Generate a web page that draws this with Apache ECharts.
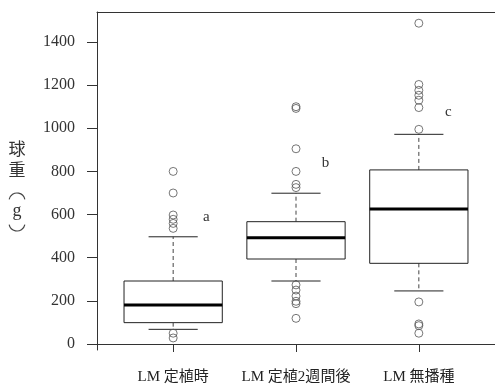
<!DOCTYPE html>
<html>
<head>
<meta charset="utf-8">
<style>
  html, body { margin: 0; padding: 0; background: #fff; }
  #chart { width: 495px; height: 390px; }
</style>
<script src="https://cdn.jsdelivr.net/npm/echarts@6/dist/echarts.min.js"></script>
</head>
<body>
<div id="chart"></div>
<script>
// Bulb weight (g) by treatment
const categories = ['LM 定植時', 'LM 定植2週間後', 'LM 無播種'];
const whiskerLow = [68, 292, 246];
const q1 = [99, 394, 374];
const median = [181, 493, 626];
const q3 = [292, 567, 807];
const whiskerHigh = [497, 699, 972];
const outliers = [
  [800, 700, 598, 578, 559, 536, 50, 28],
  [1100, 1092, 905, 800, 740, 725, 274, 250, 222, 198, 187, 119],
  [1487, 1203, 1176, 1153, 1130, 1096, 995, 195, 93, 85, 50]
];
const groupLetters = ['a', 'b', 'c'];
const yTicks = [0, 200, 400, 600, 800, 1000, 1200, 1400];

const serif = '"Liberation Serif", "Times New Roman", "Noto Sans CJK JP", serif';
const cjk = '"Noto Sans CJK JP", sans-serif';

const boxData = categories.map((c, i) =>
  [i + 1, whiskerLow[i], q1[i], median[i], q3[i], whiskerHigh[i]]);
const outlierData = [];
outliers.forEach((arr, i) => arr.forEach(v => outlierData.push([i + 1, v])));

function renderBox(params, api) {
  const x = api.value(0);
  const lo = api.value(1), a = api.value(2), m = api.value(3), b = api.value(4), hi = api.value(5);
  const halfBox = 0.4, halfCap = 0.2;
  const pL = api.coord([x - halfBox, a]), pR = api.coord([x + halfBox, b]);
  const c = api.coord([x, m]);
  const cl = api.coord([x - halfCap, lo]), cr = api.coord([x + halfCap, lo]);
  const hl = api.coord([x - halfCap, hi]), hr = api.coord([x + halfCap, hi]);
  const top = api.coord([x, b]), bot = api.coord([x, a]);
  const line = { stroke: '#222', lineWidth: 1 };
  const dash = { stroke: '#444', lineWidth: 1, lineDash: [4, 3] };
  return {
    type: 'group',
    children: [
      { type: 'line', shape: { x1: top[0], y1: top[1], x2: top[0], y2: hl[1] }, style: dash },
      { type: 'line', shape: { x1: bot[0], y1: bot[1], x2: bot[0], y2: cl[1] }, style: dash },
      { type: 'line', shape: { x1: hl[0], y1: hl[1], x2: hr[0], y2: hr[1] }, style: line },
      { type: 'line', shape: { x1: cl[0], y1: cl[1], x2: cr[0], y2: cr[1] }, style: line },
      { type: 'rect', shape: { x: pL[0], y: pR[1], width: pR[0] - pL[0], height: pL[1] - pR[1] },
        style: { fill: '#fff', stroke: '#222', lineWidth: 1 } },
      { type: 'line', shape: { x1: pL[0], y1: c[1], x2: pR[0], y2: c[1] },
        style: { stroke: '#000', lineWidth: 3 } }
    ]
  };
}

const frameLine = { show: true, lineStyle: { color: '#333', width: 1 } };

// vertical axis title: 球重（g） stacked top to bottom, brackets drawn as sideways arcs
const titleStyle = (text, size, font) => ({
  text: text, fontSize: size, fill: '#333', fontFamily: font, align: 'center', verticalAlign: 'middle'
});
const arcStyle = { stroke: '#444', lineWidth: 1.2, fill: null };

const chart = echarts.init(document.getElementById('chart'), null, { renderer: 'canvas' });
chart.setOption({
  animation: false,
  backgroundColor: '#fff',
  grid: { left: 97, top: 12, width: 401, height: 338, show: false, containLabel: false },
  xAxis: [
    {
      type: 'value', min: 0.38, max: 3.62, position: 'bottom',
      axisLine: frameLine,
      splitLine: { show: false },
      axisTick: { show: true, customValues: [1, 2, 3], length: 8, lineStyle: { color: '#333' } },
      axisLabel: {
        customValues: [1, 2, 3], margin: 20, fontSize: 15, color: '#222', fontFamily: serif,
        formatter: v => categories[Math.round(v) - 1]
      }
    },
    {
      type: 'value', min: 0.38, max: 3.62, position: 'top',
      axisLine: frameLine, axisTick: { show: false }, axisLabel: { show: false }, splitLine: { show: false }
    }
  ],
  yAxis: {
    type: 'value', min: -27.8, max: 1539,
    axisLine: frameLine,
    splitLine: { show: false },
    axisTick: { show: true, customValues: yTicks, length: 10, lineStyle: { color: '#333' } },
    axisLabel: {
      customValues: yTicks, margin: 22, fontSize: 16, color: '#333', fontFamily: serif,
      formatter: v => String(v)
    }
  },
  graphic: [
    { type: 'text', x: 17, y: 149, style: titleStyle('球', 17, cjk) },
    { type: 'text', x: 17, y: 170, style: titleStyle('重', 17, cjk) },
    { type: 'arc', shape: { cx: 17, cy: 201, r: 8, startAngle: Math.PI + 0.2, endAngle: 2 * Math.PI - 0.2 }, style: arcStyle },
    { type: 'text', x: 17, y: 211, style: titleStyle('g', 18, serif) },
    { type: 'arc', shape: { cx: 17, cy: 223, r: 8, startAngle: 0.2, endAngle: Math.PI - 0.2 }, style: arcStyle }
  ],
  series: [
    {
      type: 'custom', renderItem: renderBox, data: boxData, z: 2,
      encode: { x: 0, y: [1, 2, 3, 4, 5] }
    },
    {
      type: 'scatter', data: outlierData, symbol: 'circle', symbolSize: 8, z: 3,
      itemStyle: { color: 'rgba(0,0,0,0)', borderColor: '#555', borderWidth: 1 }
    },
    {
      type: 'custom', z: 4,
      data: [[1.27, 590], [2.24, 840], [3.24, 1075]],
      renderItem: (params, api) => {
        const p = api.coord([api.value(0), api.value(1)]);
        return { type: 'text', x: p[0], y: p[1],
          style: { text: groupLetters[params.dataIndex], fontSize: 15, fill: '#333', fontFamily: serif,
                   align: 'center', verticalAlign: 'middle' } };
      }
    }
  ]
});
</script>
</body>
</html>
